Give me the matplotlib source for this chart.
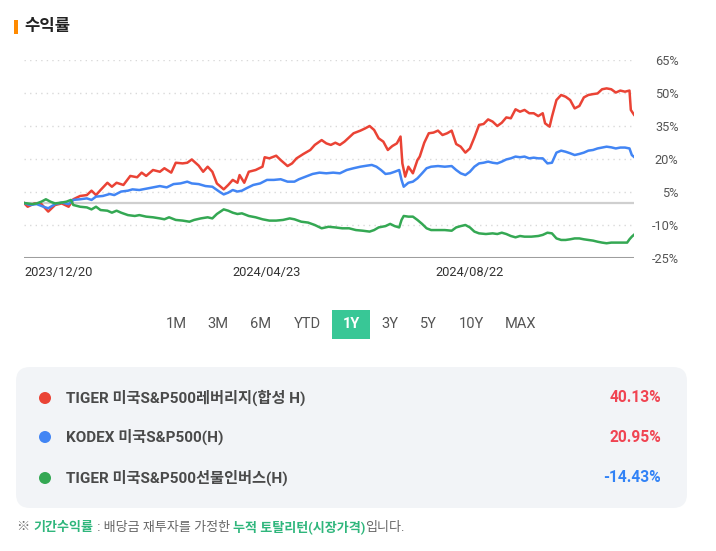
import numpy as np
import matplotlib
matplotlib.use("Agg")
import matplotlib.pyplot as plt
from matplotlib.patches import FancyBboxPatch, Circle, Rectangle

plt.rcParams["font.family"] = ["Roboto", "Noto Sans CJK KR", "DejaVu Sans"]

W, H = 716, 551

# ---- data (% return since 2023/12/20) ----
START = "2023-12-20"
END = "2024-12-19"
TICK_DATES = ["2023/12/20", "2024/04/23", "2024/08/22"]
Y_TICKS = [65, 50, 35, 20, 5, -10, -25]

RED_DAYS = [0, 2.2, 6.3, 10.4, 14.5, 18.6, 22.6, 26.7, 29.5, 33.6,
            37.6, 40.4, 43.1, 45.8, 49.9, 52.6, 55.4, 59.5, 63.6, 67.7,
            70.4, 73.1, 77.2, 81.3, 84.0, 88.1, 90.8, 94.9, 97.7, 100.4,
            104.5, 107.2, 109.9, 112.7, 115.4, 119.5, 122.2, 124.9, 127.7, 129.0,
            131.8, 134.5, 138.6, 142.7, 144.0, 146.8, 150.9, 153.6, 157.7, 160.4,
            163.1, 167.2, 171.3, 174.0, 178.1, 180.9, 183.6, 186.3, 189.0, 191.8,
            194.5, 197.2, 201.3, 204.1, 206.8, 209.5, 212.2, 215.0, 217.7, 220.4,
            223.1, 225.3, 226.4, 228.1, 230.0, 232.7, 235.4, 236.8, 239.5, 242.2,
            245.0, 247.7, 250.4, 253.2, 255.9, 258.6, 261.3, 264.1, 266.8, 269.5,
            272.3, 275.0, 277.7, 280.4, 283.2, 285.9, 288.6, 291.3, 294.1, 296.8,
            299.5, 302.3, 305.0, 307.7, 310.4, 311.8, 314.5, 315.9, 318.6, 321.4,
            324.1, 326.8, 329.5, 332.3, 335.0, 337.7, 340.5, 343.2, 345.9, 348.6,
            351.4, 354.1, 356.8, 359.6, 362.3, 363.1, 365]
RED_VALS = [0, -1.7, -0.2, -0.5, -3.9, -0.9, -0.2, -1.7, 1.7, 3.2,
            3.6, 5.6, 3.6, 5.9, 9.2, 7.4, 9.2, 8.2, 12.3, 11.7,
            13.8, 12.3, 15.0, 14.2, 15.8, 13.8, 18.3, 18.0, 18.3, 19.8,
            17.0, 14.2, 16.5, 14.2, 8.9, 6.2, 8.2, 10.5, 9.2, 12.7,
            9.2, 14.2, 15.0, 16.5, 20.8, 20.3, 21.5, 19.5, 16.8, 18.0,
            20.3, 22.3, 24.1, 26.4, 28.6, 27.1, 26.4, 27.4, 26.4, 27.9,
            29.8, 31.7, 32.9, 33.9, 35.0, 33.2, 29.4, 27.9, 24.1, 25.9,
            27.1, 30.2, 18.0, 12.0, 16.5, 13.5, 19.5, 21.1, 27.4, 31.7,
            32.0, 32.9, 30.9, 31.7, 32.9, 26.8, 25.6, 22.9, 24.8, 29.8,
            35.5, 35.9, 38.0, 37.0, 35.0, 36.5, 38.9, 38.5, 42.6, 41.5,
            42.3, 40.8, 40.8, 39.5, 40.8, 36.2, 34.7, 39.2, 46.8, 49.1,
            48.3, 46.8, 43.0, 44.1, 48.0, 49.1, 49.5, 49.8, 51.7, 52.1,
            51.7, 50.2, 51.1, 50.6, 51.1, 42.3, 40.13]

BLUE_DAYS = [0, 3.5, 7.6, 11.7, 14.5, 18.6, 22.6, 26.7, 29.5, 33.6,
             37.6, 40.4, 43.1, 47.2, 51.3, 54.0, 58.1, 62.2, 64.9, 69.0,
             73.1, 77.2, 81.3, 85.4, 89.5, 93.6, 97.7, 100.4, 104.5, 108.6,
             112.7, 116.8, 119.5, 122.2, 124.9, 127.7, 130.4, 133.1, 137.2, 141.3,
             145.4, 149.5, 153.6, 157.7, 161.8, 164.5, 168.6, 172.7, 176.8, 180.9,
             185.0, 189.0, 193.1, 197.2, 201.3, 205.4, 208.1, 210.9, 213.6, 216.3,
             219.1, 221.8, 224.5, 225.9, 227.2, 230.0, 232.7, 235.4, 238.2, 240.9,
             243.6, 247.7, 251.8, 255.9, 258.6, 261.3, 264.1, 266.8, 269.5, 272.3,
             275.0, 277.7, 280.4, 283.2, 285.9, 288.6, 291.3, 294.1, 296.8, 299.5,
             302.3, 305.0, 307.7, 310.4, 313.2, 315.9, 318.6, 321.4, 324.1, 326.8,
             329.5, 332.3, 335.0, 337.7, 340.5, 343.2, 345.9, 348.6, 351.4, 354.1,
             356.8, 359.6, 362.3, 363.7, 365]
BLUE_VALS = [0, -0.9, -0.5, -1.7, -2.4, -0.5, 0.2, -0.5, 1.4, 1.7,
             2.1, 1.4, 2.9, 3.2, 4.1, 3.6, 5.2, 5.6, 6.2, 5.9,
             6.5, 7.1, 7.7, 7.1, 8.6, 8.9, 9.7, 8.9, 8.6, 7.7,
             7.4, 5.2, 3.9, 4.7, 5.9, 5.2, 5.6, 6.7, 8.2, 8.9,
             10.5, 10.5, 10.8, 9.7, 9.7, 10.8, 12.0, 13.2, 13.8, 13.5,
             13.8, 13.5, 15.0, 15.8, 16.5, 17.0, 17.3, 16.5, 15.0, 13.2,
             13.5, 14.2, 15.0, 10.5, 7.4, 9.2, 9.7, 11.2, 13.5, 15.8,
             16.5, 16.8, 16.5, 16.8, 15.0, 13.5, 12.7, 14.2, 16.5, 18.0,
             18.3, 18.8, 18.3, 18.0, 18.8, 19.8, 20.3, 21.1, 20.8, 21.1,
             20.3, 20.6, 20.3, 20.3, 18.0, 18.3, 22.9, 23.8, 23.3, 22.6,
             21.8, 22.3, 22.9, 23.8, 24.1, 24.8, 25.2, 25.6, 25.3, 24.8,
             25.2, 25.2, 24.8, 21.8, 20.95]

GREEN_DAYS = [0, 2.2, 4.9, 7.6, 10.4, 13.1, 15.8, 18.6, 22.6, 25.4,
              28.1, 29.5, 33.6, 37.6, 40.4, 43.1, 45.8, 49.9, 52.6, 55.4,
              58.1, 62.2, 66.3, 69.0, 73.1, 77.2, 81.3, 84.0, 86.8, 90.8,
              94.9, 99.0, 101.8, 105.8, 109.9, 112.7, 115.4, 119.5, 122.2, 124.9,
              127.7, 130.4, 134.5, 138.6, 142.7, 146.8, 150.9, 155.0, 159.0, 161.8,
              165.9, 170.0, 174.0, 178.1, 182.2, 186.3, 190.4, 194.5, 198.6, 202.7,
              206.8, 209.5, 212.2, 216.3, 219.1, 221.8, 224.5, 225.9, 227.2, 230.0,
              232.7, 235.4, 238.2, 240.9, 243.6, 247.7, 251.8, 255.9, 258.6, 261.3,
              264.1, 266.8, 269.5, 272.3, 276.4, 280.4, 283.2, 285.9, 288.6, 291.3,
              294.1, 296.8, 299.5, 303.6, 307.7, 310.4, 313.2, 315.9, 318.6, 321.4,
              324.1, 326.8, 329.5, 332.3, 335.0, 337.7, 340.5, 343.2, 345.9, 348.6,
              351.4, 354.1, 356.8, 360.9, 362.3, 363.7, 365]
GREEN_VALS = [0, -0.2, -0.5, -0.2, 0.6, 1.7, 0.6, -0.2, 0.2, 0.6,
              1.4, -0.9, -1.7, -2.0, -2.9, -1.7, -3.2, -3.5, -4.4, -3.5,
              -4.4, -5.5, -5.9, -5.5, -6.2, -6.5, -7.0, -7.4, -6.5, -7.7,
              -8.0, -8.5, -7.7, -7.0, -6.5, -7.0, -5.0, -2.9, -3.5, -4.4,
              -5.0, -4.7, -5.9, -6.5, -7.4, -8.0, -8.0, -7.7, -7.0, -7.4,
              -8.5, -8.9, -10.0, -11.5, -10.8, -11.1, -11.5, -11.5, -12.3, -12.6,
              -13.0, -12.3, -11.1, -10.5, -9.5, -10.5, -11.1, -7.7, -5.9, -6.2,
              -6.2, -7.7, -9.5, -11.5, -12.3, -12.3, -12.3, -12.6, -11.1, -10.5,
              -10.0, -11.1, -13.0, -13.8, -14.1, -13.8, -14.1, -13.5, -14.1, -15.0,
              -15.6, -15.0, -15.3, -15.3, -15.0, -14.5, -13.5, -13.8, -16.1, -16.8,
              -16.8, -16.5, -16.1, -16.1, -16.5, -16.8, -17.1, -17.6, -18.0, -18.3,
              -18.0, -18.0, -18.0, -18.0, -16.5, -15.3, -14.43]

NAMES = ["TIGER 미국S&P500레버리지(합성 H)", "KODEX 미국S&P500(H)", "TIGER 미국S&P500선물인버스(H)"]
RETURNS = [40.13, 20.95, -14.43]
COLORS = ["#ea4335", "#4285f4", "#34a853"]
PERIODS = ["1M", "3M", "6M", "YTD", "1Y", "3Y", "5Y", "10Y", "MAX"]
ACTIVE = "1Y"

C_UP = "#f04452"
C_DOWN = "#3182f6"
C_MINT = "#38c796"
C_NOTE_GREEN = "#2fb67c"

fig = plt.figure(figsize=(W / 100, H / 100), dpi=100)
fig.patch.set_facecolor("white")

# overlay in pixel units for the page furniture
ov = fig.add_axes([0, 0, 1, 1])
ov.set_xlim(0, W); ov.set_ylim(H, 0); ov.axis("off")

# title
ov.add_patch(Rectangle((14, 20), 3.5, 14, color="#ff8a00", lw=0))
ov.text(24, 27, "수익률", fontsize=12, fontweight="bold", color="#222222", va="center", ha="left")

# ---- chart ----
ax = fig.add_axes([24 / W, 1 - 258 / H, (634 - 24) / W, (258 - 60) / H])
ax.set_facecolor("none")
for s in ax.spines.values():
    s.set_visible(False)

for y in Y_TICKS[:-1]:
    ax.axhline(y, color="#d9d9d9", lw=1.0, ls=(0, (1, 3)), zorder=1)
ax.axhline(0, color="#cfcfcf", lw=1.6, zorder=2)
ax.axhline(-25, color="#9e9e9e", lw=2.2, zorder=2)

for days, vals, c in [(RED_DAYS, RED_VALS, COLORS[0]),
                      (BLUE_DAYS, BLUE_VALS, COLORS[1]),
                      (GREEN_DAYS, GREEN_VALS, COLORS[2])]:
    ax.plot(days, vals, color=c, lw=1.8, zorder=3, solid_joinstyle="round")

start = np.datetime64(START)
total = int((np.datetime64(END) - start) / np.timedelta64(1, "D"))
ax.set_xlim(0, total)
ax.set_ylim(-25, 65)

tick_days = [int((np.datetime64(d.replace("/", "-")) - start) / np.timedelta64(1, "D")) for d in TICK_DATES]
ax.set_xticks(tick_days, TICK_DATES)
for lbl in ax.get_xticklabels():
    lbl.set_ha("left")
ax.tick_params(axis="x", length=0, pad=6, labelsize=9.3, labelcolor="#333333")

ax.yaxis.tick_right()
ax.set_yticks(Y_TICKS, [f"{v}%" for v in Y_TICKS])
for lbl in ax.get_yticklabels():
    lbl.set_ha("right")
ax.tick_params(axis="y", length=0, pad=32, labelsize=9.2, labelcolor="#555555")

# ---- period buttons ----
btn_x = [176, 218, 261, 307, 351, 390, 428, 471, 521]
for p, bx in zip(PERIODS, btn_x):
    if p == ACTIVE:
        ov.add_patch(Rectangle((332, 310), 38, 29, color=C_MINT, lw=0))
        ov.text(bx, 324.5, p, fontsize=10.5, fontweight="bold", color="white", ha="center", va="center")
    else:
        ov.text(bx, 324.5, p, fontsize=10.5, color="#555555", ha="center", va="center")

# ---- legend panel ----
ov.add_patch(FancyBboxPatch((16, 367), 671, 141, boxstyle="round,pad=0,rounding_size=14",
                            fc="#f2f4f7", ec="none"))
row_y = [398, 437, 478]
for name, ret, c, ry in zip(NAMES, RETURNS, COLORS, row_y):
    ov.add_patch(Circle((45, ry), 6, color=c, lw=0))
    ov.text(66, ry, name, fontsize=11, fontweight="bold", color="#4a4a4a", ha="left", va="center")
    ov.text(661, ry, f"{ret:.2f}%", fontsize=11.2, fontweight="bold",
            color=C_UP if ret >= 0 else C_DOWN, ha="right", va="center")

# ---- footnote with coloured pieces ----
pieces = [("※ ", "#666666", "normal"), ("기간수익률", C_NOTE_GREEN, "bold"),
          (" : 배당금 재투자를 가정한 ", "#666666", "normal"),
          ("누적 토탈리턴(시장가격)", C_NOTE_GREEN, "bold"), ("입니다.", "#666666", "normal")]
renderer = fig.canvas.get_renderer()
x = 17
for txt, col, wt in pieces:
    t = ov.text(x, 527, txt, fontsize=9.4, color=col, fontweight=wt, ha="left", va="center")
    x += t.get_window_extent(renderer).width

fig.savefig("out.png", dpi=100, facecolor="white")
